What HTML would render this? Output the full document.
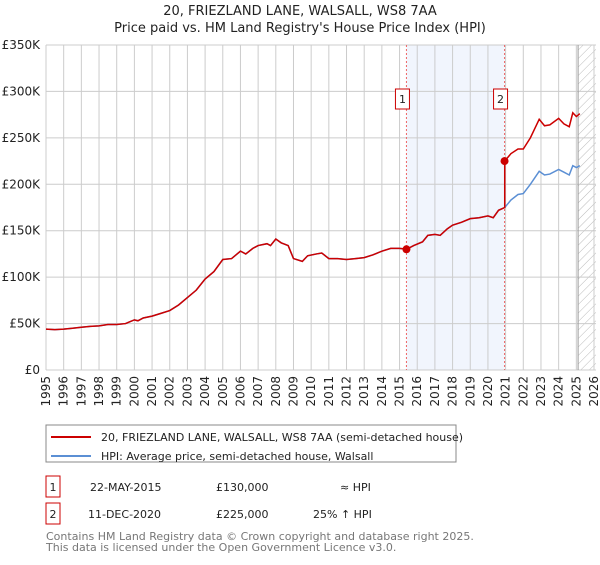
<!DOCTYPE html>
<html><head><meta charset="utf-8"><style>
body{margin:0;background:#fff;font-family:"Liberation Sans","DejaVu Sans",sans-serif;}
svg text{font-family:"DejaVu Sans","Liberation Sans",sans-serif;}
</style></head><body>
<svg width="600" height="560" xmlns="http://www.w3.org/2000/svg" id="c">
<defs><pattern id="hatch" width="6" height="6" patternUnits="userSpaceOnUse" patternTransform="rotate(45)"><line x1="0" y1="0" x2="0" y2="6" stroke="#bbb" stroke-width="1"/></pattern></defs>
<text x="300" y="15" text-anchor="middle" font-size="13" fill="#222">20, FRIEZLAND LANE, WALSALL, WS8 7AA</text>
<text x="300" y="32" text-anchor="middle" font-size="13" fill="#222">Price paid vs. HM Land Registry's House Price Index (HPI)</text>
<g id="plot"></g>
<g>
<rect x="46" y="425" width="410" height="37" fill="#fff" stroke="#888"/>
<line x1="51" y1="437" x2="91" y2="437" stroke="#cc0000" stroke-width="2"/>
<text x="101" y="441" font-size="11" fill="#222">20, FRIEZLAND LANE, WALSALL, WS8 7AA (semi-detached house)</text>
<line x1="51" y1="456" x2="91" y2="456" stroke="#5b8fd4" stroke-width="2"/>
<text x="101" y="460" font-size="11" fill="#222">HPI: Average price, semi-detached house, Walsall</text>
</g>
<g font-size="11" fill="#222">
<rect x="46" y="476" width="14" height="21" fill="#fff" stroke="#cc0000"/><text x="53" y="491" text-anchor="middle">1</text>
<text x="90" y="491">22-MAY-2015</text><text x="216" y="491">£130,000</text><text x="340" y="491">≈ HPI</text>
<rect x="46" y="503" width="14" height="21" fill="#fff" stroke="#cc0000"/><text x="53" y="518" text-anchor="middle">2</text>
<text x="88" y="518">11-DEC-2020</text><text x="216" y="518">£225,000</text><text x="313" y="518">25% ↑ HPI</text>
</g>
<text x="46" y="540" font-size="11" fill="#777">Contains HM Land Registry data © Crown copyright and database right 2025.</text>
<text x="46" y="551" font-size="11" fill="#777">This data is licensed under the Open Government Licence v3.0.</text>
</svg>
<script>
const yearTicks=[1995,1996,1997,1998,1999,2000,2001,2002,2003,2004,2005,2006,2007,2008,2009,2010,2011,2012,2013,2014,2015,2016,2017,2018,2019,2020,2021,2022,2023,2024,2025,2026];
const priceTicks=[0,50,100,150,200,250,300,350];
const priceLabels=["£0","£50K","£100K","£150K","£200K","£250K","£300K","£350K"];
const hpiT=[1995,1995.5,1996,1996.5,1997,1997.5,1998,1998.5,1999,1999.5,2000,2000.2,2000.5,2001,2001.5,2002,2002.5,2003,2003.5,2004,2004.5,2005,2005.5,2006,2006.3,2006.7,2007,2007.5,2007.7,2008,2008.3,2008.7,2009,2009.5,2009.8,2010.3,2010.6,2011,2011.5,2012,2012.5,2013,2013.5,2014,2014.5,2015,2015.4,2015.8,2016.3,2016.6,2017,2017.3,2017.7,2018,2018.5,2019,2019.5,2020,2020.3,2020.6,2020.95,2021.3,2021.7,2022,2022.4,2022.9,2023.2,2023.5,2024,2024.3,2024.6,2024.8,2025,2025.2];
const hpiV=[44,43.5,44,45,46,47,47.5,49,49,50,54,53,56,58,61,64,70,78,86,98,106,119,120,128,125,131,134,136,134,141,137,134,120,117,123,125,126,120,120,119,120,121,124,128,131,131,130,134,138,145,146,145,152,156,159,163,164,166,164,172,175,183,189,190,200,214,210,211,216,213,210,220,218,220];
const propT=hpiT.slice(0,61).concat([2020.95,2021.3,2021.7,2022,2022.4,2022.9,2023.2,2023.5,2024,2024.3,2024.6,2024.8,2025,2025.2]);
const propV=hpiV.slice(0,61).concat([225,233,238,238,250,270,263,264,271,265,262,277,273,276]);
const saleT=[2015.39,2020.94];
const saleV=[130,225];
const saleLabels=["1","2"];
const X0=46,X1=594,Y0=370,Y1=45;
const x=t=>X0+(t-1995)/(2026-1995)*(X1-X0);
const y=v=>Y0-v/350*(Y0-Y1);
const NS="http://www.w3.org/2000/svg";
const g=document.getElementById('plot');
function mk(tag,attrs,parent){const e=document.createElementNS(NS,tag);for(const k in attrs)e.setAttribute(k,attrs[k]);(parent||g).appendChild(e);return e;}
// shaded region
let r=mk('rect',{x:x(saleT[0]),y:Y1,width:x(saleT[1])-x(saleT[0]),height:Y0-Y1,fill:'#eef3fc',opacity:0.8});


// hatch
const hs=2025.1;
let h=mk('rect',{x:x(hs),y:Y1,width:X1+2-x(hs),height:Y0-Y1,fill:'url(#hatch)'});


yearTicks.forEach(t=>{
 let l=mk('line',{x1:x(t),x2:x(t),y1:Y1,y2:Y0,stroke:'#ccc','stroke-width':1});
 
 
 let tx=mk('text',{x:0,y:0,'font-size':12,fill:'#222','text-anchor':'end',transform:`translate(${x(t)+4},${Y0+6}) rotate(-90)`});
 tx.textContent=t;
 
 
});
priceTicks.forEach((v,i)=>{
 let l=mk('line',{x1:X0,x2:X1+2,y1:y(v),y2:y(v),stroke:'#ccc','stroke-width':1});
 
 
 let tx=mk('text',{x:X0-6,y:y(v)+4,'font-size':12,fill:'#222','text-anchor':'end'});
 tx.textContent=priceLabels[i];
 
 
});
let edge=mk('line',{x1:x(hs),x2:x(hs),y1:Y1,y2:Y0,stroke:'#999','stroke-width':1});


saleT.forEach((t,i)=>{
 let l=mk('line',{x1:x(t),x2:x(t),y1:Y1,y2:Y0,stroke:'#e66','stroke-width':1,'stroke-dasharray':'2,2'});
 
 
 let b=mk('rect',{x:x(t)-11,y:89,width:14,height:20,fill:'#fff',stroke:'#cc0000'});
 
 
 let tx=mk('text',{x:x(t)-4,y:103,'font-size':11,fill:'#222','text-anchor':'middle'});
 tx.textContent=saleLabels[i];
 
 
});
let hp=mk('polyline',{points:hpiT.map((t,i)=>x(t)+','+y(hpiV[i])).join(' '),fill:'none',stroke:'#5b8fd4','stroke-width':1.5});


let pp=mk('polyline',{points:propT.map((t,i)=>x(t)+','+y(propV[i])).join(' '),fill:'none',stroke:'#cc0000','stroke-width':1.5});


saleT.forEach((t,i)=>{
 let c=mk('circle',{cx:x(t),cy:y(saleV[i]),r:4,fill:'#cc0000'});
 
 
});
</script>
</body></html>
